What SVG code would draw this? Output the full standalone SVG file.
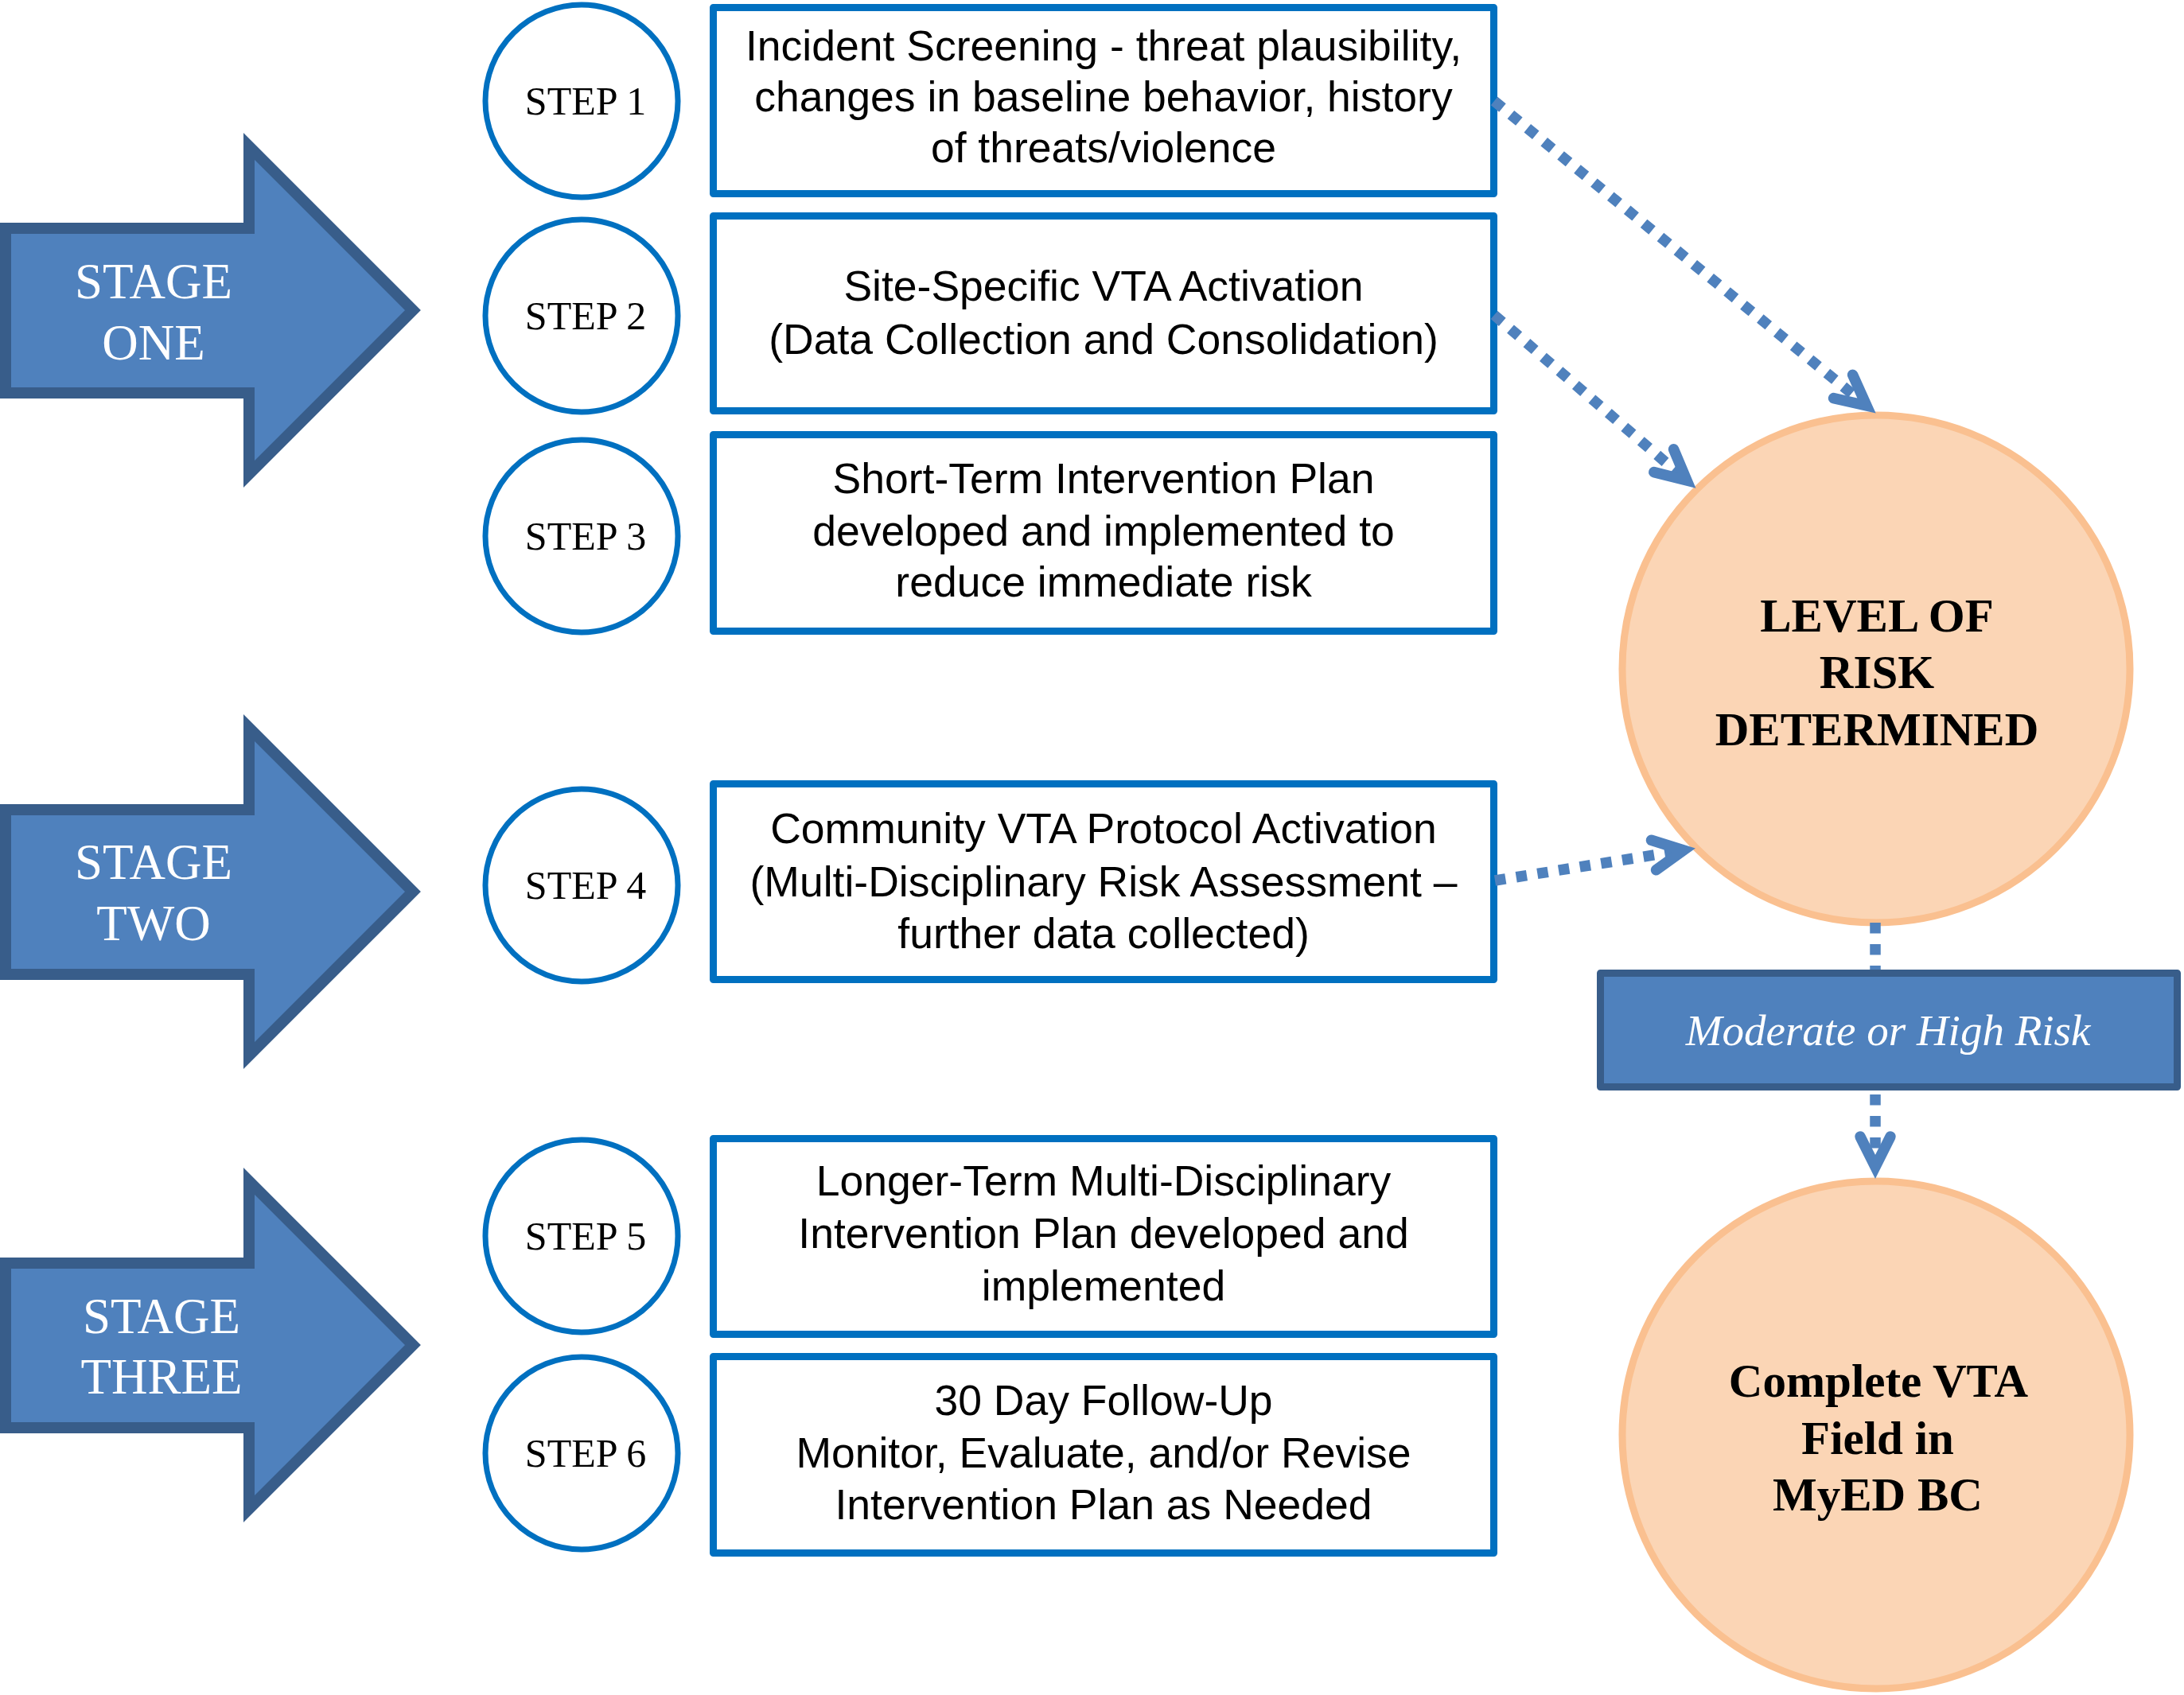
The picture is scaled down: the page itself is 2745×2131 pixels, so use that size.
<svg xmlns="http://www.w3.org/2000/svg" width="2745" height="2131" viewBox="0 0 2745 2131">
<defs>
<style>
.stage{fill:#4F81BD;stroke:#385D8A;stroke-width:14;stroke-linejoin:miter}
.stagetxt{font-family:"Liberation Serif","Times New Roman",serif;font-size:63px;fill:#FFFFFF;text-anchor:middle}
.stepc{fill:#FFFFFF;stroke:#0070C0;stroke-width:7}
.steptxt{font-family:"Liberation Serif","Times New Roman",serif;font-size:50px;fill:#000000;text-anchor:middle}
.box{fill:#FFFFFF;stroke:#0070C0;stroke-width:9;stroke-linejoin:round}
.boxtxt{font-family:"Liberation Sans",Arial,sans-serif;font-size:53.5px;fill:#000000;text-anchor:middle}
.big{fill:#FBD5B5;stroke:#FAC090;stroke-width:9}
.bigtxt{font-family:"Liberation Serif","Times New Roman",serif;font-size:59px;font-weight:bold;fill:#000000;text-anchor:middle}
.conn{fill:none;stroke:#4F81BD;stroke-width:13.5;stroke-dasharray:13.5 13.5;marker-end:url(#chev)}
.label{fill:#4F81BD;stroke:#385D8A;stroke-width:9;stroke-linejoin:round}
.labeltxt{font-family:"Liberation Serif","Times New Roman",serif;font-style:italic;font-size:55px;fill:#FFFFFF;text-anchor:middle}
</style>
<marker id="chev" markerUnits="userSpaceOnUse" orient="auto" refX="0" refY="0" markerWidth="1" markerHeight="1" style="overflow:visible">
<path d="M-38,-19 L0,0 L-38,19" fill="none" stroke="#4F81BD" stroke-width="13.5" stroke-linecap="round" stroke-linejoin="miter"/>
</marker>
</defs>
<rect width="2745" height="2131" fill="#FFFFFF"/>

<g id="stage-one">
<path class="stage" d="M7,287 H313 V184 L519,390 L313,596 V494 H7 Z"/>
<text class="stagetxt" x="193" y="375">STAGE</text>
<text class="stagetxt" x="193" y="452">ONE</text>
</g>
<g id="stage-two">
<path class="stage" d="M7,1018 H313 V915 L519,1121 L313,1327 V1225 H7 Z"/>
<text class="stagetxt" x="193" y="1105">STAGE</text>
<text class="stagetxt" x="193" y="1182">TWO</text>
</g>
<g id="stage-three">
<path class="stage" d="M7,1588 H313 V1485 L519,1691 L313,1897 V1795 H7 Z"/>
<text class="stagetxt" x="203" y="1676">STAGE</text>
<text class="stagetxt" x="203" y="1752">THREE</text>
</g>

<g id="step1">
<circle class="stepc" cx="731" cy="127" r="121"/>
<text class="steptxt" x="736" y="144">STEP 1</text>
</g>
<g id="step2">
<circle class="stepc" cx="731" cy="397" r="121"/>
<text class="steptxt" x="736" y="414">STEP 2</text>
</g>
<g id="step3">
<circle class="stepc" cx="731" cy="674" r="121"/>
<text class="steptxt" x="736" y="691">STEP 3</text>
</g>
<g id="step4">
<circle class="stepc" cx="731" cy="1113" r="121"/>
<text class="steptxt" x="736" y="1130">STEP 4</text>
</g>
<g id="step5">
<circle class="stepc" cx="731" cy="1554" r="121"/>
<text class="steptxt" x="736" y="1571">STEP 5</text>
</g>
<g id="step6">
<circle class="stepc" cx="731" cy="1827" r="121"/>
<text class="steptxt" x="736" y="1844">STEP 6</text>
</g>

<g id="box1">
<rect class="box" x="896.5" y="9.5" width="981" height="234"/>
<text class="boxtxt" x="1387" y="76">Incident Screening - threat plausibility,</text>
<text class="boxtxt" x="1387" y="140">changes in baseline behavior, history</text>
<text class="boxtxt" x="1387" y="204">of threats/violence</text>
</g>
<g id="box2">
<rect class="box" x="896.5" y="271.5" width="981" height="245"/>
<text class="boxtxt" x="1387" y="378">Site-Specific VTA Activation</text>
<text class="boxtxt" x="1387" y="445">(Data Collection and Consolidation)</text>
</g>
<g id="box3">
<rect class="box" x="896.5" y="546.5" width="981" height="247"/>
<text class="boxtxt" x="1387" y="620">Short-Term Intervention Plan</text>
<text class="boxtxt" x="1387" y="686">developed and implemented to</text>
<text class="boxtxt" x="1387" y="750">reduce immediate risk</text>
</g>
<g id="box4">
<rect class="box" x="896.5" y="985.5" width="981" height="246"/>
<text class="boxtxt" x="1387" y="1060">Community VTA Protocol Activation</text>
<text class="boxtxt" x="1387" y="1127">(Multi-Disciplinary Risk Assessment –</text>
<text class="boxtxt" x="1387" y="1192">further data collected)</text>
</g>
<g id="box5">
<rect class="box" x="896.5" y="1431.5" width="981" height="246"/>
<text class="boxtxt" x="1387" y="1503">Longer-Term Multi-Disciplinary</text>
<text class="boxtxt" x="1387" y="1569">Intervention Plan developed and</text>
<text class="boxtxt" x="1387" y="1635">implemented</text>
</g>
<g id="box6">
<rect class="box" x="896.5" y="1705.5" width="981" height="247"/>
<text class="boxtxt" x="1387" y="1779">30 Day Follow-Up</text>
<text class="boxtxt" x="1387" y="1845">Monitor, Evaluate, and/or Revise</text>
<text class="boxtxt" x="1387" y="1910">Intervention Plan as Needed</text>
</g>

<g id="risk-level">
<circle class="big" cx="2358" cy="841" r="319"/>
<text class="bigtxt" x="2359" y="794">LEVEL OF</text>
<text class="bigtxt" x="2359" y="865">RISK</text>
<text class="bigtxt" x="2359" y="937">DETERMINED</text>
</g>
<g id="complete-vta">
<circle class="big" cx="2358" cy="1804" r="319"/>
<text class="bigtxt" x="2361" y="1756">Complete VTA</text>
<text class="bigtxt" x="2360" y="1828">Field in</text>
<text class="bigtxt" x="2360" y="1899">MyED BC</text>
</g>

<g id="connectors">
<path class="conn" d="M1878,127 L2346,510"/>
<path class="conn" d="M1878,396 L2120,604"/>
<path class="conn" d="M1879,1107 L2116,1069"/>
<path class="conn" d="M2357,1160 L2357,1467"/>
</g>

<g id="moderate-high">
<rect class="label" x="2011.5" y="1223.5" width="725" height="143"/>
<text class="labeltxt" x="2373" y="1314">Moderate or High Risk</text>
</g>
</svg>
